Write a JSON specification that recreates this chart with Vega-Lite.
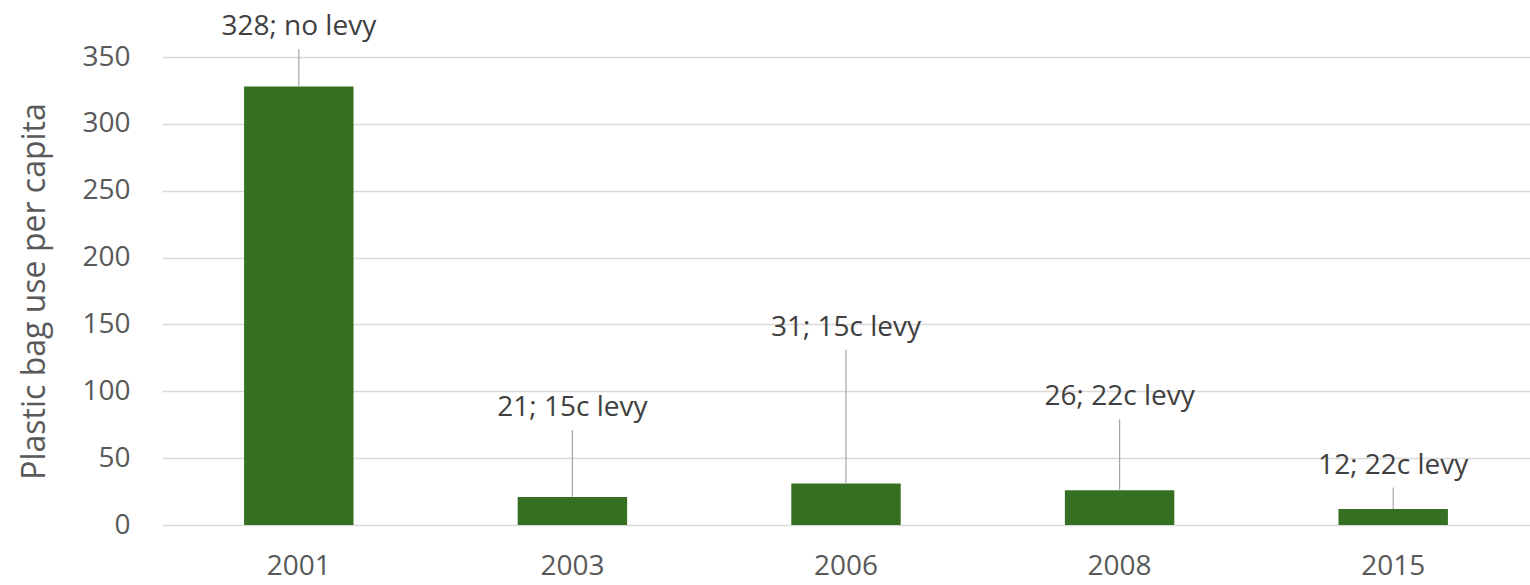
{
  "$schema": "https://vega.github.io/schema/vega-lite/v6.json",
  "width": 1368,
  "height": 468,
  "autosize": {"type": "none"},
  "padding": {"left": 162, "top": 57, "right": 0, "bottom": 60},
  "background": "white",
  "config": {
    "view": {"stroke": null},
    "font": "Open Sans",
    "axis": {"labelFont": "Open Sans", "titleFont": "Open Sans", "labelColor": "#595959", "titleColor": "#595959"}
  },
  "data": {
    "values": [
      {"year": "2001", "bags": 328, "label": "328; no levy", "labelAt": 356},
      {"year": "2003", "bags": 21, "label": "21; 15c levy", "labelAt": 71},
      {"year": "2006", "bags": 31, "label": "31; 15c levy", "labelAt": 131},
      {"year": "2008", "bags": 26, "label": "26; 22c levy", "labelAt": 79},
      {"year": "2015", "bags": 12, "label": "12; 22c levy", "labelAt": 28}
    ]
  },
  "encoding": {
    "x": {
      "field": "year",
      "type": "nominal",
      "sort": null,
      "scale": {"paddingInner": 0.6, "paddingOuter": 0.3},
      "axis": {
        "title": null,
        "labelAngle": 0,
        "labelFontSize": 28,
        "labelPadding": 27,
        "ticks": false,
        "domain": false,
        "grid": false
      }
    }
  },
  "layer": [
    {
      "mark": {"type": "bar", "color": "#356f22"},
      "encoding": {
        "y": {
          "field": "bags",
          "type": "quantitative",
          "scale": {"domain": [0, 350], "nice": false},
          "axis": {
            "title": "Plastic bag use per capita",
            "titleFontSize": 32,
            "titleFontWeight": "normal",
            "titlePadding": 30,
            "labelFontSize": 28,
            "labelPadding": 32,
            "values": [0, 50, 100, 150, 200, 250, 300, 350],
            "ticks": false,
            "domain": false,
            "grid": true,
            "gridColor": "#d9d9d9",
            "gridWidth": 1.5
          }
        }
      }
    },
    {
      "mark": {"type": "rule", "color": "#a6a6a6", "strokeWidth": 1.2, "clip": false},
      "encoding": {
        "y": {"field": "bags", "type": "quantitative"},
        "y2": {"field": "labelAt"}
      }
    },
    {
      "mark": {"type": "text", "fontSize": 28, "color": "#404040", "baseline": "middle", "dy": -22, "clip": false},
      "encoding": {
        "y": {"field": "labelAt", "type": "quantitative"},
        "text": {"field": "label"}
      }
    }
  ]
}
